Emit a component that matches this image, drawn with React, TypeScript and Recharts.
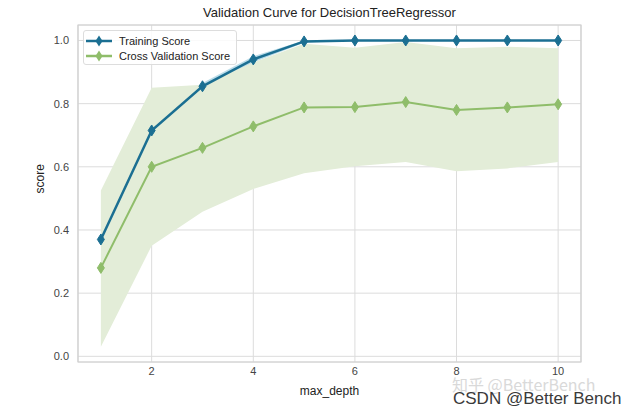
import React from "react"
import {
  ComposedChart,
  Line,
  Area,
  XAxis,
  YAxis,
  CartesianGrid,
  ReferenceArea,
} from "recharts"

const depths = [1, 2, 3, 4, 5, 6, 7, 8, 9, 10]
const trainScore = [0.37, 0.715, 0.855, 0.94, 0.997, 1.0, 1.0, 1.0, 1.0, 1.0]
const trainLow = [0.355, 0.7, 0.845, 0.93, 0.993, 1.0, 1.0, 1.0, 1.0, 1.0]
const trainHigh = [0.385, 0.73, 0.865, 0.95, 1.0, 1.0, 1.0, 1.0, 1.0, 1.0]
const cvScore = [0.28, 0.6, 0.66, 0.728, 0.788, 0.789, 0.805, 0.78, 0.788, 0.798]
const cvLow = [0.03, 0.35, 0.458, 0.53, 0.58, 0.602, 0.615, 0.586, 0.595, 0.615]
const cvHigh = [0.525, 0.85, 0.86, 0.93, 0.99, 0.977, 0.995, 0.975, 0.98, 0.975]
const xTicks = [2, 4, 6, 8, 10]
const yTicks = [0, 0.2, 0.4, 0.6, 0.8, 1.0]

const TRAIN = "#1b6f92"
const CV = "#8fbd6a"
const FONT = "'Liberation Sans', Arial, sans-serif"

const data = depths.map((d, i) => ({
  depth: d,
  train: trainScore[i],
  trainBand: [trainLow[i], trainHigh[i]],
  cv: cvScore[i],
  cvBand: [cvLow[i], cvHigh[i]],
}))

const Diamond = ({ cx, cy, fill }: any) => {
  if (cx == null || cy == null) return null
  return (
    <path
      d={`M${cx},${cy - 5.5} L${cx + 3.5},${cy} L${cx},${cy + 5.5} L${cx - 3.5},${cy} Z`}
      fill={fill}
      stroke={fill}
      strokeWidth={1}
    />
  )
}

const LegendBox = () => {
  const items = [
    { name: "Training Score", color: TRAIN },
    { name: "Cross Validation Score", color: CV },
  ]
  return (
    <div
      style={{
        position: "absolute",
        left: 83,
        top: 30,
        boxSizing: "border-box",
        width: 154,
        height: 35,
        border: "1px solid #dddddd",
        borderRadius: 3,
        background: "rgba(255,255,255,0.85)",
        padding: "2px 0 0 0",
        fontFamily: FONT,
        fontSize: 11,
        color: "#222",
        whiteSpace: "nowrap",
      }}
    >
      {items.map((it) => (
        <div key={it.name} style={{ display: "flex", alignItems: "center", height: 15 }}>
          <svg width={35} height={14}>
            <line x1={2} y1={7} x2={28} y2={7} stroke={it.color} strokeWidth={2.5} />
            <path d="M15,1.5 L18.5,7 L15,12.5 L11.5,7 Z" fill={it.color} />
          </svg>
          <span>{it.name}</span>
        </div>
      ))}
    </div>
  )
}

export default function App() {
  return (
    <div style={{ position: "absolute", left: 0, top: 0, width: 637, height: 415, background: "#fff" }}>
      <div
        style={{
          position: "absolute",
          left: 78,
          width: 503,
          top: 5,
          textAlign: "center",
          fontFamily: FONT,
          fontSize: 13,
          color: "#222",
        }}
      >
        Validation Curve for DecisionTreeRegressor
      </div>
      <ComposedChart
        width={637}
        height={415}
        data={data}
        margin={{ top: 25, right: 56, bottom: 0, left: 0 }}
      >
        <CartesianGrid stroke="#dcdcdc" strokeWidth={1} />
        <XAxis
          dataKey="depth"
          type="number"
          height={53}
          domain={[0.55, 10.45]}
          ticks={xTicks}
          axisLine={false}
          tickLine={false}
          tickSize={3}
          tickMargin={2}
          tick={{ fill: "#444", fontSize: 11, fontFamily: FONT }}
          label={{
            value: "max_depth",
            position: "insideBottom",
            offset: 20,
            fill: "#222",
            fontSize: 12,
            fontFamily: FONT,
          }}
        />
        <YAxis
          type="number"
          width={78}
          domain={[-0.018, 1.049]}
          ticks={yTicks}
          axisLine={false}
          tickLine={false}
          tickSize={7}
          tickMargin={2}
          tickFormatter={(v: number) => v.toFixed(1)}
          tick={{ fill: "#444", fontSize: 11, fontFamily: FONT }}
          label={{
            value: "score",
            angle: -90,
            position: "insideLeft",
            offset: 40,
            fill: "#222",
            fontSize: 12,
            fontFamily: FONT,
          }}
        />
        <ReferenceArea
          x1={0.55}
          x2={10.45}
          y1={-0.018}
          y2={1.049}
          fill="none"
          stroke="#d0d0d0"
          strokeWidth={1.2}
          ifOverflow="visible"
        />
        <Area
          dataKey="trainBand"
          type="linear"
          stroke="none"
          fill="#a9d3e3"
          fillOpacity={0.8}
          isAnimationActive={false}
          activeDot={false}
        />
        <Area
          dataKey="cvBand"
          type="linear"
          stroke="none"
          fill="#e3edd8"
          fillOpacity={1}
          isAnimationActive={false}
          activeDot={false}
        />
        <Line
          dataKey="train"
          type="linear"
          stroke={TRAIN}
          strokeWidth={2.5}
          dot={<Diamond fill={TRAIN} />}
          isAnimationActive={false}
          activeDot={false}
        />
        <Line
          dataKey="cv"
          type="linear"
          stroke={CV}
          strokeWidth={2}
          dot={<Diamond fill={CV} />}
          isAnimationActive={false}
          activeDot={false}
        />
      </ComposedChart>
      <LegendBox />
      <div
        style={{
          position: "absolute",
          left: 452,
          top: 376,
          lineHeight: "16px",
          fontFamily: "'Noto Sans CJK SC', 'Liberation Sans', sans-serif",
          fontSize: 16,
          color: "#d9d9d9",
          whiteSpace: "nowrap",
        }}
      >
        知乎 @BetterBench
      </div>
      <div
        style={{
          position: "absolute",
          left: 453,
          top: 390,
          lineHeight: "18px",
          fontFamily: FONT,
          fontSize: 17,
          color: "#3a3a3a",
          whiteSpace: "nowrap",
        }}
      >
        CSDN @Better Bench
      </div>
    </div>
  )
}
